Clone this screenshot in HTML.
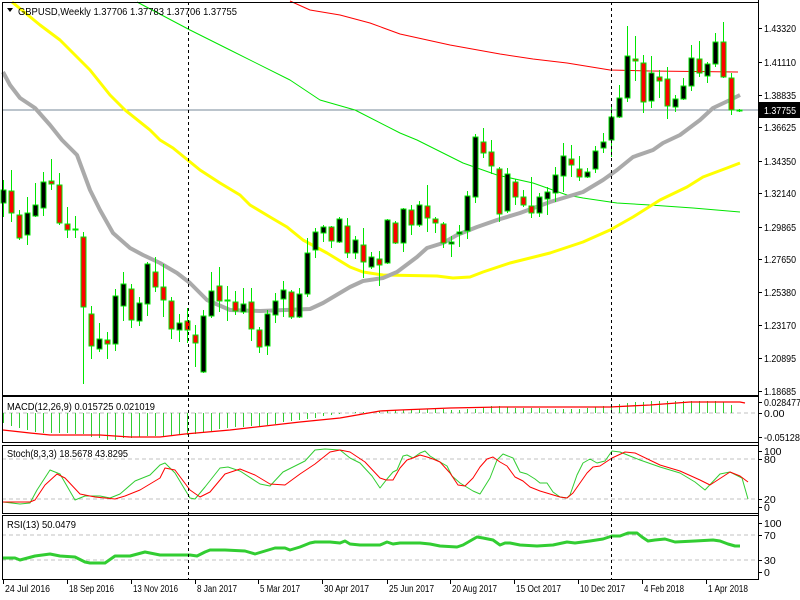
<!DOCTYPE html>
<html><head><meta charset="utf-8"><style>
html,body{margin:0;padding:0;background:#fff;}
svg{display:block;font-family:"Liberation Sans",sans-serif;font-size:10.5px;}
</style></head><body>
<svg id="c" width="800" height="600" xmlns="http://www.w3.org/2000/svg">
<rect width="800" height="600" fill="#fff"/>
<g id="ma"></g>
<g id="cd"></g>
<g id="ind"></g>
<g id="fr"></g>
</svg>
<script>
var NS="http://www.w3.org/2000/svg";
function el(p,t,a,txt){var e=document.createElementNS(NS,t);for(var k in a)e.setAttribute(k,a[k]);if(txt!==undefined)e.textContent=txt;document.getElementById(p).appendChild(e);return e;}
function pl(p,pts,col,w){el(p,"polyline",{points:pts.map(function(q){return q.join(",")}).join(" "),fill:"none",stroke:col,"stroke-width":w,"stroke-linejoin":"round"});}
el("ma","line",{x1:2,y1:110,x2:758,y2:110,stroke:"#778899","stroke-width":1});
pl("ma",[[290,1],[310,10],[340,15],[370,23],[400,34],[450,45],[500,54],[533,59],[567,63],[610,70],[650,71],[738,72]],"#ff0000",1);
pl("ma",[[137,2],[190,30],[230,50],[290,80],[320,100],[355,110],[400,133],[417,140],[463,163],[497,175],[533,183],[567,195],[583,198],[617,203],[650,205],[693,208],[740,212]],"#00e600",1);
pl("ma",[[12,2],[40,25],[60,40],[90,70],[110,95],[125,110],[150,130],[160,140],[173,148],[200,170],[220,183],[240,195],[250,205],[270,217],[287,227],[303,240],[327,253],[350,267],[363,272],[383,275],[437,276],[453,278],[470,277],[483,272],[510,263],[550,253],[583,242],[610,230],[633,217],[660,200],[687,187],[703,177],[727,168],[740,163]],"#ffff00",3);
pl("ma",[[3,72],[10,85],[20,98],[35,108],[50,125],[62,140],[77,155],[90,190],[100,210],[113,233],[130,248],[143,255],[160,263],[177,273],[190,283],[207,300],[230,310],[260,311],[310,309],[323,303],[350,287],[363,281],[383,278],[397,272],[417,257],[427,248],[443,243],[457,235],[477,227],[497,220],[520,213],[550,202],[583,192],[603,180],[617,170],[633,157],[653,150],[663,143],[680,135],[700,120],[713,108],[730,100],[740,95]],"#aaaaaa",4);
var C=[[203,190,180,217],[191,213,170,222],[215,238,210,240],[235,213,197,245],[216,205,183,217],[208,182,172,216],[181,184,159,190],[185,223,173,225],[224,230,207,238],[229,230,216,238],[237,307,232,384],[314,346,306,359],[349,339,323,352],[340,344,332,359],[344,296,289,351],[306,284,272,321],[289,320,284,328],[321,303,297,326],[304,264,262,316],[272,287,257,292],[287,300,264,317],[301,329,297,339],[330,323,314,342],[321,330,308,343],[335,343,325,367],[372,316,310,373],[316,291,272,318],[286,301,267,312],[300,300,286,321],[302,311,291,315],[312,304,288,314],[302,329,288,341],[330,347,327,353],[346,314,310,355],[315,301,293,323],[299,290,281,317],[292,317,290,319],[317,294,288,318],[294,253,238,297],[250,232,228,258],[233,227,225,242],[227,241,226,248],[242,219,217,243],[226,253,218,258],[253,240,236,259],[245,262,228,278],[267,257,252,269],[259,265,251,286],[263,220,219,264],[223,243,221,244],[243,209,208,252],[210,225,205,235],[225,205,201,227],[206,218,185,232],[219,223,217,233],[224,243,222,248],[244,242,236,257],[234,232,225,247],[231,196,191,239],[197,137,134,203],[142,153,128,158],[152,166,140,174],[169,214,167,222],[211,174,168,213],[182,197,179,205],[197,205,190,207],[206,213,177,218],[213,197,193,217],[199,192,187,215],[193,175,167,202],[176,156,143,192],[159,165,145,177],[169,177,156,181],[177,172,168,178],[169,151,146,173],[148,142,133,153],[140,117,104,157],[117,98,85,118],[98,56,26,102],[59,61,36,81],[63,102,55,113],[101,73,56,108],[77,81,70,98],[79,106,67,119],[107,99,95,112],[99,86,78,100],[86,58,45,91],[59,73,41,77],[76,64,62,83],[64,42,33,67],[42,77,22,78],[78,110,73,115],[110,111,109,112]];
C.forEach(function(c,i){var x=3+8*i+0.5;
 el("cd","line",{x1:x,y1:c[2],x2:x,y2:c[3],stroke:"#00e600","stroke-width":1});
 var t=Math.min(c[0],c[1]),h=Math.max(1,Math.abs(c[0]-c[1]));
 el("cd","rect",{x:x-2.5,y:t,width:5,height:h,fill:(c[1]<c[0]?"#000":"#ff0000"),stroke:"#00e600","stroke-width":1});
});
var M=[423,426,428,430,432,433,433,433,433,434,434,437,438,440,440,438,438,437,436,436,436,436,435,435,434,433,431,429,428,427,427,426,426,425,424,422,421,420,419,418,416,415,414,413,412,412,413,411,411,410,410,410,409,409,409,409,410,410,409,409,407,406,406,407,408,408,408,408,409,409,409,409,409,408,407,406,405,404,403,402,402,401,401,401,401,401,401,401,401,401,402,405];
el("ind","line",{x1:2,y1:413,x2:758,y2:413,stroke:"#c0c0c0","stroke-dasharray":"4,3"});
M.forEach(function(v,i){var x=3+8*i+0.5;el("ind","line",{x1:x,y1:413,x2:x,y2:v,stroke:"#32cd32","stroke-width":1});});
pl("ind",[[3,430],[30,433],[50,435],[100,435],[130,437],[160,437],[185,434],[230,430],[300,422],[340,418],[380,411],[400,410],[450,408],[500,407],[560,407],[610,407],[650,405],[690,402],[740,402],[745,403]],"#ff0000",1.3);
[459,499].forEach(function(y){el("ind","line",{x1:2,y1:y,x2:758,y2:y,stroke:"#c0c0c0","stroke-dasharray":"4,3"});});
pl("ind",[[3,502],[20,504],[30,503],[37,490],[50,470],[60,474],[75,500],[85,496],[100,496],[110,498],[120,494],[135,481],[150,475],[160,465],[165,463],[175,473],[190,498],[195,499],[205,487],[220,468],[228,467],[240,471],[260,484],[270,486],[283,472],[305,461],[315,450],[325,449],[340,450],[350,458],[360,463],[372,476],[380,488],[387,479],[393,472],[397,470],[403,456],[407,455],[413,458],[420,453],[425,451],[430,456],[440,462],[447,466],[452,476],[460,483],[473,491],[480,494],[490,478],[497,460],[503,454],[513,458],[520,472],[527,474],[535,479],[540,483],[547,483],[553,492],[560,497],[567,498],[570,495],[577,475],[583,463],[590,459],[597,463],[605,461],[612,451],[620,452],[640,460],[660,467],[680,473],[695,482],[705,490],[720,474],[730,472],[742,478],[748,499]],"#32cd32",1);
pl("ind",[[3,502],[30,502],[35,500],[45,485],[57,474],[65,478],[80,494],[95,497],[115,499],[125,496],[140,490],[160,478],[165,468],[175,470],[190,490],[200,497],[210,492],[225,474],[240,469],[255,475],[270,484],[285,485],[300,474],[315,464],[330,452],[340,450],[350,452],[365,462],[380,478],[386,480],[393,480],[400,468],[407,460],[413,458],[420,455],[427,457],[433,459],[440,462],[450,473],[458,485],[465,486],[473,478],[480,467],[487,459],[493,457],[500,462],[507,466],[515,477],[523,481],[530,487],[540,491],[550,494],[560,497],[567,498],[573,493],[580,483],[587,473],[593,467],[600,466],[612,458],[625,452],[635,453],[660,465],[680,471],[700,480],[710,485],[730,472],[740,476],[748,482]],"#ff0000",1);
[535,560].forEach(function(y){el("ind","line",{x1:2,y1:y,x2:758,y2:y,stroke:"#c0c0c0","stroke-dasharray":"4,3"});});
pl("ind",[[3,558],[15,558],[20,560],[35,556],[50,554],[60,556],[75,557],[85,562],[90,563],[105,563],[115,556],[130,556],[145,552],[160,555],[190,555],[197,556],[205,552],[210,550],[225,550],[245,551],[255,554],[265,551],[275,548],[285,548],[290,550],[300,547],[310,543],[315,542],[330,542],[340,543],[345,541],[350,544],[360,545],[380,545],[387,542],[393,544],[400,543],[420,543],[430,544],[440,546],[457,547],[463,545],[470,541],[477,537],[483,538],[493,540],[500,545],[505,543],[510,543],[520,545],[537,546],[553,545],[567,542],[575,543],[590,541],[603,539],[612,536],[620,536],[628,533],[637,533],[642,537],[648,541],[655,540],[665,539],[675,542],[695,541],[713,540],[720,541],[728,544],[735,546],[740,546]],"#32cd32",3);
[188.5,611.5].forEach(function(x){el("fr","line",{x1:x,y1:2,x2:x,y2:579,stroke:"#000","stroke-dasharray":"3,3"});});
[[2,2,756,393],[2,396,756,46],[2,445,756,68],[2,515,756,64]].forEach(function(r){el("fr","rect",{x:r[0]+0.5,y:r[1]+0.5,width:r[2],height:r[3],fill:"none",stroke:"#000"});});
el("fr","line",{x1:758.5,y1:0,x2:758.5,y2:580,stroke:"#000"});
el("fr","line",{x1:2,y1:579.5,x2:759,y2:579.5,stroke:"#000"});
var P=[["1.43320",28],["1.41110",62],["1.38835",95],["1.36625",127],["1.34350",161],["1.32140",193],["1.29865",227],["1.27650",259],["1.25380",292],["1.23170",325],["1.20895",358],["1.18685",391],
["0.028477",402],["0.00",413],["-0.051285",437],["100",451],["80",459],["20",499],["0",507],["100",523],["70",535],["30",560],["0",572]];
P.forEach(function(p){el("fr","line",{x1:758,y1:p[1]+0.5,x2:762,y2:p[1]+0.5,stroke:"#000"});
 var a={x:764,y:p[1]+4,fill:"#000"};
 if(p[0].length==7){a.textLength=32;a.lengthAdjust="spacingAndGlyphs";}
 if(p[0].length>=8){a.textLength=p[0].length==8?37:41;a.lengthAdjust="spacingAndGlyphs";}
 el("fr","text",a,p[0]);});
el("fr","rect",{x:759,y:102,width:41,height:16,fill:"#000"});
el("fr","text",{x:764,y:114,fill:"#fff",textLength:32,lengthAdjust:"spacingAndGlyphs"},"1.37755");
var D=[["24 Jul 2016",3],["18 Sep 2016",67],["13 Nov 2016",131],["8 Jan 2017",195],["5 Mar 2017",258],["30 Apr 2017",322],["25 Jun 2017",387],["20 Aug 2017",450],["15 Oct 2017",514],["10 Dec 2017",578],["4 Feb 2018",642],["1 Apr 2018",706]];
D.forEach(function(d){el("fr","line",{x1:d[1]+0.5,y1:580,x2:d[1]+0.5,y2:584,stroke:"#000"});
 el("fr","text",{x:d[1]+2,y:592,fill:"#000",textLength:(d[0].length==11?45:40),lengthAdjust:"spacingAndGlyphs"},d[0]);});
el("fr","polygon",{points:"7,8 13,8 10,12",fill:"#000"});
el("fr","text",{x:18,y:15,fill:"#000",textLength:219,lengthAdjust:"spacingAndGlyphs"},"GBPUSD,Weekly  1.37706 1.37783 1.37706 1.37755");
el("fr","text",{x:7,y:410,fill:"#000",textLength:148,lengthAdjust:"spacingAndGlyphs"},"MACD(12,26,9) 0.015725 0.021019");
el("fr","text",{x:7,y:457,fill:"#000",textLength:121,lengthAdjust:"spacingAndGlyphs"},"Stoch(8,3,3) 18.5678 43.8295");
el("fr","text",{x:7,y:528,fill:"#000",textLength:69,lengthAdjust:"spacingAndGlyphs"},"RSI(13) 50.0479");
</script>
</body></html>
